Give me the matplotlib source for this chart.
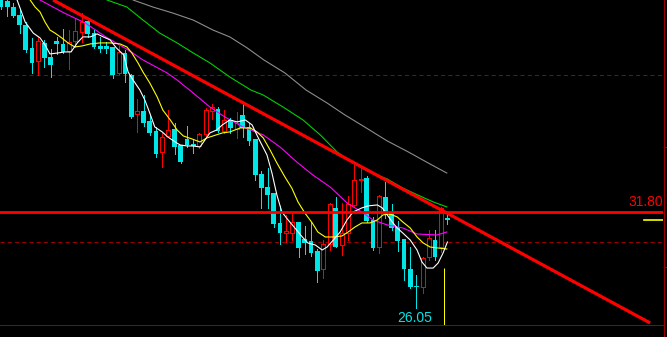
import numpy as np
import matplotlib
matplotlib.use('Agg')
import matplotlib.pyplot as plt
from matplotlib.lines import Line2D

plt.rcParams['lines.scale_dashes'] = False
plt.rcParams['patch.antialiased'] = False

# daily candles, oldest first
opens = [44.70, 44.45, 44.07, 43.59, 42.99, 41.62, 40.84, 41.92, 41.08, 42.04,
         41.86, 41.44, 42.04, 42.57, 43.23, 42.51, 41.74, 41.74, 41.68, 40.12,
         41.32, 40.00, 37.66, 37.84, 37.25, 36.65, 35.39, 36.35, 36.77, 35.81,
         36.17, 35.87, 35.75, 36.47, 37.84, 37.96, 36.65, 37.31, 36.77, 37.60,
         36.89, 36.17, 34.07, 33.29, 32.93, 31.14, 30.54, 30.54, 31.20, 30.18,
         30.06, 29.46, 28.38, 29.88, 32.04, 29.82, 30.54, 32.22, 33.71, 33.83,
         31.32, 29.70, 32.69, 31.74, 30.90, 30.18, 28.38, 27.37, 27.31, 29.10,
         30.12, 29.70, 31.44]
highs = [44.90, 44.60, 44.30, 43.90, 43.17, 42.22, 42.28, 42.10, 41.56, 42.28,
         42.75, 42.69, 43.41, 43.71, 43.41, 42.69, 42.28, 41.98, 41.68, 41.74,
         41.50, 40.06, 38.56, 38.80, 37.54, 36.89, 36.53, 37.90, 37.13, 35.81,
         36.95, 36.11, 36.53, 38.02, 38.26, 38.08, 37.90, 37.43, 37.78, 38.32,
         37.13, 36.17, 34.25, 34.43, 32.93, 32.16, 31.62, 31.74, 31.20, 30.96,
         31.20, 29.58, 30.12, 32.34, 32.69, 32.34, 32.75, 34.61, 34.49, 33.95,
         31.50, 32.81, 33.59, 32.28, 31.26, 30.18, 29.70, 28.02, 29.10, 30.72,
         30.72, 32.10, 31.62]
lows = [43.95, 43.53, 43.47, 42.51, 41.38, 40.12, 40.00, 40.48, 39.88, 41.26,
        41.32, 40.36, 41.68, 41.98, 42.28, 41.62, 41.38, 41.32, 39.82, 40.06,
        39.58, 37.43, 36.59, 36.95, 36.41, 35.09, 34.49, 36.29, 35.27, 34.73,
        35.69, 35.33, 35.63, 36.23, 37.37, 36.59, 36.53, 36.53, 36.23, 36.29,
        35.81, 33.71, 32.04, 32.04, 30.90, 29.88, 30.00, 30.12, 29.10, 29.28,
        29.16, 27.60, 27.84, 29.52, 29.70, 29.22, 30.12, 32.10, 32.99, 31.20,
        29.52, 29.34, 31.44, 30.72, 29.46, 27.72, 27.25, 26.05, 26.95, 28.92,
        28.92, 29.40, 31.08]
closes = [44.10, 44.07, 43.53, 42.99, 41.50, 40.72, 42.04, 41.02, 40.60, 41.86,
          41.38, 41.98, 42.63, 43.17, 42.46, 41.68, 41.56, 41.56, 40.00, 41.38,
          40.06, 37.49, 37.84, 37.13, 36.53, 35.27, 36.29, 36.71, 35.69, 34.79,
          35.81, 35.75, 36.47, 37.90, 38.08, 36.65, 37.31, 36.83, 37.13, 36.83,
          36.05, 34.01, 33.23, 32.81, 31.08, 30.54, 30.66, 31.20, 29.64, 29.94,
          29.34, 28.26, 29.88, 32.28, 29.70, 30.54, 32.28, 33.71, 33.77, 31.26,
          29.64, 32.75, 31.74, 30.84, 30.06, 28.38, 27.31, 27.31, 29.04, 30.24,
          29.10, 32.04, 31.32]

# moving averages (candle index, price)
ma5_x = [2.6, 3.9, 5.2, 6.3, 7.1, 7.9, 9.2, 10.3, 11.3, 12.3, 13.2, 14.4, 15.5,
         16.5, 17.6, 18.6, 19.8, 20.5, 21.3, 22.4, 23.2, 24.0, 24.8, 26.0, 26.9,
         28.1, 28.9, 30.0, 31.0, 32.1, 32.9, 33.7, 34.8, 35.7, 36.9, 38.1, 39.4,
         40.5, 41.5, 42.9, 43.7, 44.5, 45.3, 46.3, 47.4, 48.6, 49.5, 50.7, 51.8,
         52.6, 53.6, 54.7, 55.8, 56.8, 58.2, 59.2, 60.7, 61.5, 62.3, 63.1, 63.9,
         64.8, 66.0, 67.1, 67.9, 68.7, 69.7, 70.5, 71.3, 72.0]
ma5_y = [44.49, 43.17, 42.51, 42.22, 41.80, 41.26, 41.32, 41.38, 41.38, 41.92,
         42.28, 42.28, 42.46, 42.28, 42.10, 41.62, 41.20, 40.18, 39.70, 39.10,
         38.50, 37.72, 36.89, 36.59, 36.29, 35.99, 35.81, 35.75, 35.75, 35.69,
         36.11, 36.53, 36.71, 37.01, 37.31, 37.19, 37.31, 37.01, 36.23, 35.21,
         34.13, 32.81, 31.80, 31.32, 30.84, 30.30, 29.94, 29.82, 29.52, 29.70,
         30.12, 30.60, 31.32, 31.80, 32.04, 32.16, 32.22, 32.04, 31.62, 31.20,
         30.84, 30.54, 30.12, 29.52, 28.80, 28.44, 28.44, 28.74, 29.34, 30.00]

ma10_x = [4.7, 5.5, 6.3, 7.1, 7.9, 8.7, 9.8, 10.8, 11.9, 13.1, 14.4, 16.0, 17.6,
          19.2, 20.3, 21.1, 22.1, 22.9, 24.0, 25.2, 26.1, 27.3, 28.4, 29.4, 30.8,
          32.1, 33.2, 34.2, 35.7, 36.9, 38.6, 40.2, 41.3, 42.3, 43.4, 44.5, 45.8,
          46.9, 47.9, 49.0, 50.2, 51.1, 52.3, 53.6, 55.0, 56.0, 57.1, 58.2, 59.5,
          60.7, 61.6, 62.7, 63.9, 64.8, 66.0, 67.1, 68.1, 69.2, 70.5, 71.9]
ma10_y = [44.49, 44.07, 43.77, 43.17, 42.69, 42.51, 42.22, 41.92, 41.68, 41.74,
          41.86, 41.92, 41.92, 41.86, 41.68, 41.32, 40.72, 40.18, 39.52, 38.68,
          37.90, 37.31, 36.71, 36.35, 36.17, 35.99, 36.23, 36.35, 36.53, 36.59,
          36.83, 36.83, 36.59, 36.23, 35.51, 34.73, 33.89, 33.23, 32.40, 31.74,
          31.14, 30.60, 30.30, 30.30, 30.36, 30.60, 30.90, 31.14, 31.14, 31.32,
          31.62, 31.68, 31.50, 31.20, 30.84, 30.30, 29.94, 29.70, 29.64, 29.58]

ma20_x = [6.3, 10.2, 13.6, 16.9, 20.5, 22.9, 26.8, 28.4, 31.0, 33.7, 36.1, 39.0,
          42.3, 45.0, 47.7, 50.3, 53.1, 55.8, 58.4, 60.0, 62.3, 64.8, 67.1, 70.3,
          71.9]
ma20_y = [44.49, 43.71, 43.11, 42.28, 41.50, 40.90, 40.12, 39.70, 38.92, 38.08,
          37.49, 36.89, 36.41, 35.69, 34.79, 34.01, 33.29, 32.34, 31.74, 31.32,
          31.02, 30.84, 30.48, 30.42, 30.60]

ma60_x = [17.1, 20.3, 22.9, 25.6, 28.4, 31.0, 33.7, 36.9, 40.3, 42.3, 45.5, 48.7,
          51.5, 54.2, 56.8, 59.5, 62.3, 64.8, 67.6, 69.7, 71.9]
ma60_y = [44.49, 44.07, 43.29, 42.51, 41.92, 41.32, 40.72, 39.88, 39.10, 38.80,
          38.08, 37.31, 36.41, 35.39, 34.73, 34.19, 33.77, 33.23, 32.75, 32.40,
          32.10]

ma120_x = [21.3, 24.5, 27.7, 31.0, 34.2, 36.9, 39.7, 42.4, 45.8, 49.2, 52.6, 55.5,
           58.9, 62.3, 65.7, 69.2, 71.9]
ma120_y = [44.49, 44.07, 43.71, 43.29, 42.69, 42.28, 41.62, 40.90, 40.12, 39.10,
           38.32, 37.60, 36.83, 36.05, 35.39, 34.67, 34.13]

# hand drawn resistance line and the levels
trend_x = [8.4, 104.7]
trend_y = [44.49, 25.15]
level = 31.80
grid_levels = [30.0, 40.0]
low_idx = 67
cursor_x = 71.45
cursor_top = 28.44

CYAN = '#00e6e6'
RED = '#ff0000'
DARK = '#9a0000'
PX = 0.72  # one pixel in points at dpi 100

fig = plt.figure(figsize=(6.67, 3.37), dpi=100, facecolor='black')
ax = fig.add_axes([0, 12 / 337, 663 / 667, 325 / 337])
ax.set_facecolor('black')

x = np.arange(len(opens))
o = np.array(opens)
c = np.array(closes)
up = c >= o

wick_col = [RED if u else CYAN for u in up]
ax.vlines(x, lows, highs, colors=wick_col, lw=PX, zorder=3, antialiased=False)

body_bot = np.minimum(o, c)
body_h = np.maximum(np.abs(c - o), 0.06)
ax.bar(x[up], body_h[up], bottom=body_bot[up], width=0.66,
       facecolor='black', edgecolor=RED, linewidth=PX, zorder=4)
ax.bar(x[~up], body_h[~up], bottom=body_bot[~up], width=0.8,
       color=CYAN, linewidth=0, zorder=4)

ax.plot(ma120_x, ma120_y, color='#8c8c8c', lw=0.8, zorder=2)
ax.plot(ma60_x, ma60_y, color='#00d000', lw=0.8, zorder=2)
ax.plot(ma20_x, ma20_y, color='#ff00ff', lw=0.8, zorder=5)
ax.plot(ma10_x, ma10_y, color='#ffff00', lw=0.8, zorder=5)
ax.plot(ma5_x, ma5_y, color='#ffffff', lw=0.8, zorder=5)

ax.plot(trend_x, trend_y, color=RED, lw=2.3, zorder=6, solid_capstyle='butt')
ax.axhline(level, color=RED, lw=2.0, zorder=6)
for g in grid_levels:
    ax.axhline(g, color=DARK, lw=PX, dashes=(3, 2.2), zorder=1)

ax.text(1.0, level + 0.15, '%.2f' % level, transform=ax.get_yaxis_transform(),
        ha='right', va='bottom', color=RED, fontsize=10, family='Liberation Sans')
ax.annotate('%.2f' % lows[low_idx], xy=(low_idx, lows[low_idx]), xytext=(-1, -2),
            textcoords='offset points', ha='center', va='top', color=CYAN,
            fontsize=10, family='Liberation Sans')

# last price marker and cursor
ax.plot([103.7, 106.8], [closes[-1], closes[-1]], color='#ffff00', lw=1.2, zorder=6)
ax.vlines(cursor_x, 25.0, cursor_top, color='#ffff00', lw=PX, zorder=6)

ax.set_xlim(-0.16, 106.77)
ax.set_ylim(25.03, 44.49)
for s in ['top', 'left', 'right']:
    ax.spines[s].set_visible(False)
ax.spines['bottom'].set_color(DARK)
ax.spines['bottom'].set_linewidth(PX)
ax.set_xticks([])
ax.yaxis.tick_right()
ax.set_yticks([35.69, 28.50])
ax.set_yticklabels([])
ax.tick_params(axis='y', colors=DARK, length=3, width=PX)

fig.add_artist(Line2D([663.5 / 667, 663.5 / 667], [0, 1], transform=fig.transFigure,
                      color=DARK, lw=PX))

fig.savefig('out.png', dpi=100, facecolor='black')
